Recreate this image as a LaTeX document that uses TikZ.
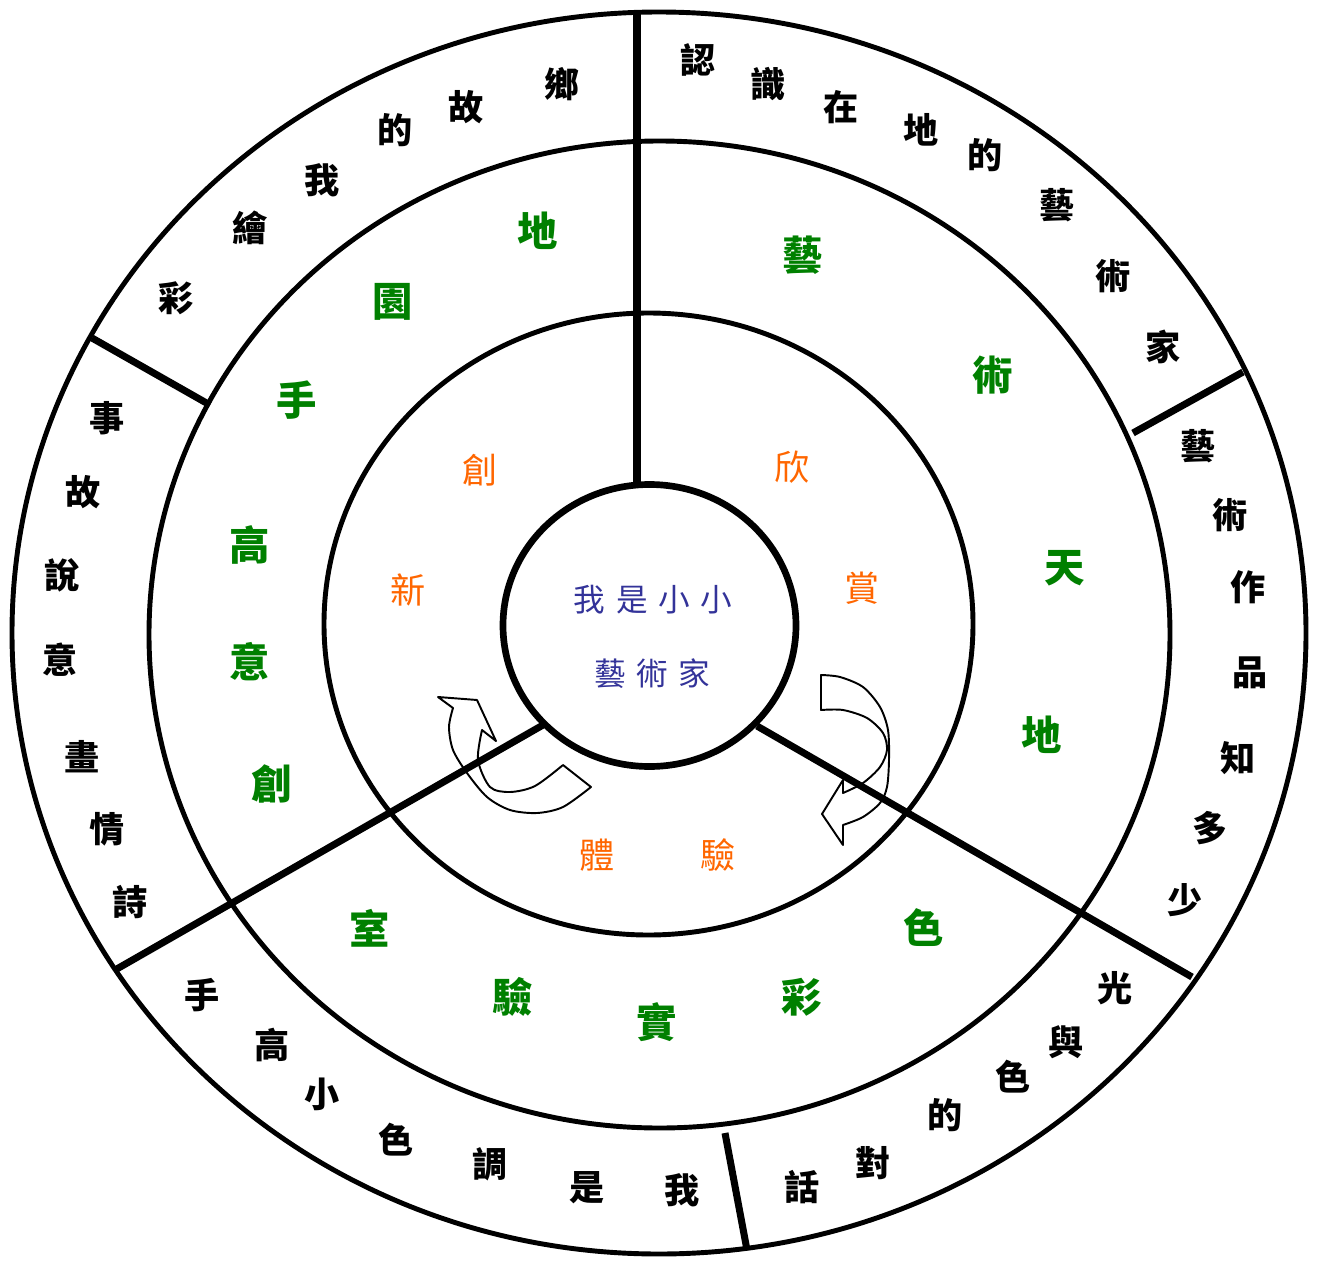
\documentclass[tikz,border=0pt]{standalone}
\usepackage{fontspec}
\newfontfamily\cjk{Noto Sans CJK TC}
\definecolor{ringgreen}{RGB}{0,128,0}
\definecolor{ringorange}{RGB}{255,102,0}
\definecolor{centreblue}{RGB}{51,51,153}
\begin{document}
\begin{tikzpicture}[x=0.02cm,y=-0.02cm,
  ring/.style={line width=2.8pt},
  hub/.style={line width=3.8pt},
  divider/.style={line width=4pt},
  arr/.style={line width=1.1pt, line join=round},
  outerch/.style={font=\cjk\bfseries\fontsize{20}{24}\selectfont, text=black, inner sep=0pt},
  greench/.style={font=\cjk\bfseries\fontsize{23}{27}\selectfont, text=ringgreen, inner sep=0pt},
  orangech/.style={font=\cjk\fontsize{20}{24}\selectfont, text=ringorange, inner sep=0pt},
  centrech/.style={font=\cjk\fontsize{18}{22}\selectfont, text=centreblue, inner sep=0pt}]
\useasboundingbox (0,0) rectangle (1319,1261);
% rings
\draw[ring] (659,633) ellipse [x radius=647, y radius=621];
\draw[ring] (659.5,634.5) ellipse [x radius=510.5, y radius=493.5];
\draw[ring] (648.5,624) ellipse [x radius=324.5, y radius=311];
\draw[hub] (649.5,625.5) ellipse [x radius=146.5, y radius=141];
% divider end points
\coordinate (vt) at (637,12);   \coordinate (vb) at (637,485);
\coordinate (ula) at (92,338);  \coordinate (ulb) at (210,405);
\coordinate (ura) at (1243,372);\coordinate (urb) at (1133,433);
\coordinate (lla) at (115,970); \coordinate (llb) at (543,725);
\coordinate (lra) at (757,726); \coordinate (lrb) at (1192,977);
\coordinate (bta) at (725,1133);\coordinate (btb) at (747,1250);
\draw[divider] (vt) -- (vb);
\draw[divider] (ula) -- (ulb);
\draw[divider] (ura) -- (urb);
\draw[divider] (lla) -- (llb);
\draw[divider] (lra) -- (lrb);
\draw[divider] (bta) -- (btb);
% curved arrows
\draw[arr] (563,765) -- (591,787) -- plot[smooth] coordinates {(591,787) (563,807) (537,813) (510,810) (487,797) (467,773) (453,750) (449,727) (453,708)} -- (438,697) -- (477,700) -- (496,741) -- (482,730) -- plot[smooth] coordinates {(482,730) (478,760) (490,787) (510,792) (535,786) (563,765)} -- cycle;
\draw[arr] (821,675) -- plot[smooth] coordinates {(821,675) (840,677) (863,687) (880,707) (888,730) (889,760) (887,787) (880,803) (863,817) (843,825)} -- (843,845) -- (822,814) -- (843,780) -- (843,793) -- plot[smooth] coordinates {(843,793) (863,783) (880,767) (887,750) (883,733) (867,718) (843,710) (821,710)} -- cycle;
% outer ring text
\foreach \ch/\x/\y [count=\i] in {彩/176/298, 繪/250/228, 我/322/180, 的/395/130, 故/466/107, 鄉/562/84,
  認/698/60, 識/768/84, 在/841/107, 地/921/130, 的/985/155, 藝/1057/205, 術/1113/276, 家/1163/347,
  藝/1198/446, 術/1230/515, 作/1248/587, 品/1250/673, 知/1238/758, 多/1210/828, 少/1185/900,
  光/1115/988, 與/1066/1042, 色/1013/1077, 的/945/1115, 對/873/1163, 話/802/1187,
  手/202/995, 高/272/1045, 小/322/1094, 色/396/1140, 調/490/1164, 是/587/1188, 我/682/1190,
  事/107/418, 故/83/492, 說/62/575, 意/60/660, 畫/82/757, 情/107/829, 詩/130/902}
  \node[outerch] (o\i) at (\x,\y) {\ch};
% middle ring text
\foreach \ch/\x/\y [count=\i] in {地/538/231, 園/393/302, 手/297/400, 高/250/545, 意/250/662, 創/272/784,
  藝/803/255, 術/993/375, 天/1065/568, 地/1042/735,
  室/370/928, 驗/513/997, 實/657/1022, 彩/802/997, 色/924/928}
  \node[greench] (m\i) at (\x,\y) {\ch};
% inner ring text
\foreach \ch/\x/\y [count=\i] in {創/480/470, 新/408/590, 欣/792/467, 賞/862/588, 體/597/855, 驗/718/855}
  \node[orangech] (n\i) at (\x,\y) {\ch};
% centre
\node[centrech] (c1) at (653,600) {我\hspace{6pt}是\hspace{6pt}小\hspace{6pt}小};
\node[centrech] (c2) at (652,674) {藝\hspace{6pt}術\hspace{6pt}家};
\end{tikzpicture}
\end{document}
